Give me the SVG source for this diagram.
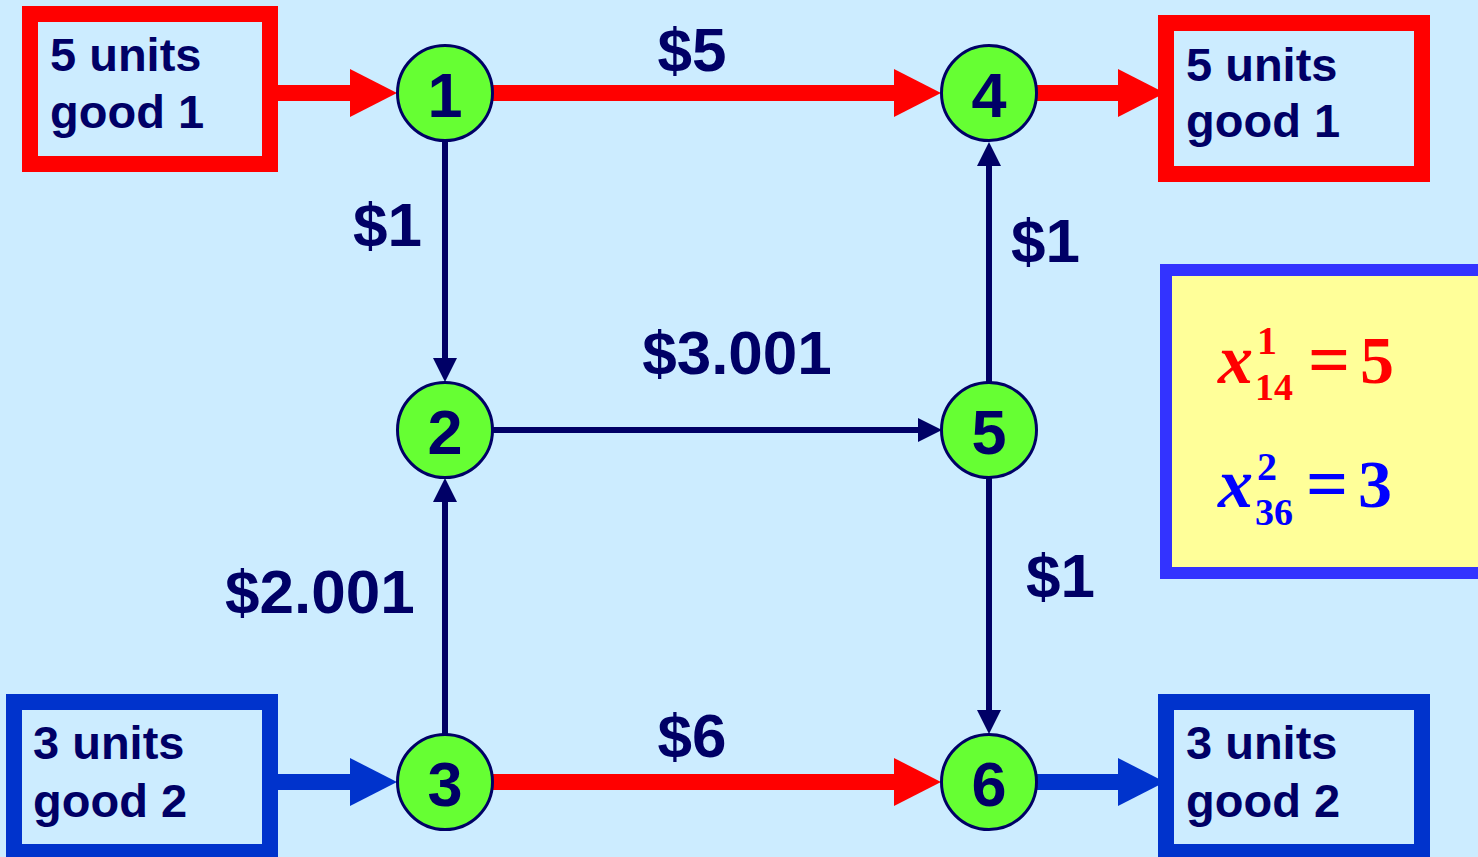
<svg xmlns="http://www.w3.org/2000/svg" width="1478" height="857" viewBox="0 0 1478 857">
  <style>
    .node circle { fill: #66FF33; stroke: #000066; stroke-width: 3; }
    .node text { font-family: "Liberation Sans", Arial, sans-serif; font-weight: bold; font-size: 63px; fill: #000066; text-anchor: middle; }
    .box rect { fill: #CCECFF; stroke-width: 16; }
    .box text { font-family: "Liberation Sans", Arial, sans-serif; font-weight: bold; font-size: 47px; fill: #000066; }
    .cost { font-family: "Liberation Sans", Arial, sans-serif; font-weight: bold; font-size: 62px; fill: #000066; }
    .thick { stroke-width: 16; fill: none; }
    .thin { stroke: #000066; stroke-width: 6; fill: none; marker-end: url(#headNavy); }
    .formula { font-family: "Liberation Serif", "Times New Roman", serif; font-weight: bold; }
  </style>
  <defs>
    <marker id="headRed" markerUnits="userSpaceOnUse" markerWidth="47" markerHeight="48" refX="0" refY="24" orient="auto">
      <path d="M0,0 L47,24 L0,48 z" fill="#FF0000"/>
    </marker>
    <marker id="headBlue" markerUnits="userSpaceOnUse" markerWidth="47" markerHeight="48" refX="0" refY="24" orient="auto">
      <path d="M0,0 L47,24 L0,48 z" fill="#0033CC"/>
    </marker>
    <marker id="headNavy" markerUnits="userSpaceOnUse" markerWidth="24" markerHeight="24" refX="0" refY="12" orient="auto">
      <path d="M0,0 L24,12 L0,24 z" fill="#000066"/>
    </marker>
  </defs>

  <!-- background -->
  <rect x="0" y="0" width="1478" height="857" fill="#CCECFF"/>

  <!-- connectors -->
  <g id="connectors">
    <!-- good 1 flow (red) -->
    <line class="thick" x1="278" y1="93" x2="350" y2="93" stroke="#FF0000" marker-end="url(#headRed)"/>
    <line class="thick" x1="493" y1="93" x2="894" y2="93" stroke="#FF0000" marker-end="url(#headRed)"/>
    <line class="thick" x1="1037" y1="93" x2="1118" y2="93" stroke="#FF0000" marker-end="url(#headRed)"/>
    <line class="thick" x1="493" y1="782" x2="894" y2="782" stroke="#FF0000" marker-end="url(#headRed)"/>
    <!-- good 2 flow (blue) -->
    <line class="thick" x1="278" y1="782" x2="350" y2="782" stroke="#0033CC" marker-end="url(#headBlue)"/>
    <line class="thick" x1="1037" y1="782" x2="1118" y2="782" stroke="#0033CC" marker-end="url(#headBlue)"/>
    <!-- unused arcs (navy) -->
    <line class="thin" x1="445" y1="141" x2="445" y2="358"/>
    <line class="thin" x1="493" y1="430" x2="918" y2="430"/>
    <line class="thin" x1="989" y1="382" x2="989" y2="166"/>
    <line class="thin" x1="989" y1="478" x2="989" y2="710"/>
    <line class="thin" x1="445" y1="734" x2="445" y2="502"/>
  </g>

  <!-- arc costs -->
  <g id="costs">
    <text class="cost" x="692" y="71" text-anchor="middle">$5</text>
    <text class="cost" x="353" y="246">$1</text>
    <text class="cost" x="1011" y="262">$1</text>
    <text class="cost" x="737" y="374" text-anchor="middle">$3.001</text>
    <text class="cost" x="225" y="613">$2.001</text>
    <text class="cost" x="1026" y="597">$1</text>
    <text class="cost" x="692" y="757" text-anchor="middle">$6</text>
  </g>

  <!-- supply / demand boxes -->
  <g id="supply1" class="box">
    <rect x="30" y="14" width="240" height="150" stroke="#FF0000"/>
    <text x="50" y="71">5 units</text>
    <text x="50" y="128">good 1</text>
  </g>
  <g id="demand1" class="box">
    <rect x="1166" y="23" width="256" height="151" stroke="#FF0000"/>
    <text x="1186" y="81">5 units</text>
    <text x="1186" y="137">good 1</text>
  </g>
  <g id="supply2" class="box">
    <rect x="14" y="702" width="256" height="150" stroke="#0033CC"/>
    <text x="33" y="759">3 units</text>
    <text x="33" y="817">good 2</text>
  </g>
  <g id="demand2" class="box">
    <rect x="1166" y="702" width="256" height="150" stroke="#0033CC"/>
    <text x="1186" y="759">3 units</text>
    <text x="1186" y="817">good 2</text>
  </g>

  <!-- nodes -->
  <g id="node1" class="node"><circle cx="445" cy="93" r="47.5"/><text x="445" y="117">1</text></g>
  <g id="node2" class="node"><circle cx="445" cy="430" r="47.5"/><text x="445" y="454">2</text></g>
  <g id="node3" class="node"><circle cx="445" cy="782" r="47.5"/><text x="445" y="806">3</text></g>
  <g id="node4" class="node"><circle cx="989" cy="93" r="47.5"/><text x="989" y="117">4</text></g>
  <g id="node5" class="node"><circle cx="989" cy="430" r="47.5"/><text x="989" y="454">5</text></g>
  <g id="node6" class="node"><circle cx="989" cy="782" r="47.5"/><text x="989" y="806">6</text></g>

  <!-- solution panel -->
  <g id="solution">
    <rect x="1166" y="270" width="330" height="303" fill="#FFFF99" stroke="#3333FF" stroke-width="12"/>
    <g class="formula" fill="#FF0000">
      <text x="1218" y="383" font-size="70" font-style="italic">x</text>
      <text x="1257" y="354" font-size="40">1</text>
      <text x="1255" y="400" font-size="38">14</text>
      <text x="1308" y="385" font-size="74">=</text>
      <text x="1360" y="383" font-size="68">5</text>
    </g>
    <g class="formula" fill="#0000FF">
      <text x="1218" y="507" font-size="70" font-style="italic">x</text>
      <text x="1257" y="480" font-size="40">2</text>
      <text x="1255" y="525" font-size="38">36</text>
      <text x="1306" y="509" font-size="74">=</text>
      <text x="1358" y="507" font-size="68">3</text>
    </g>
  </g>
</svg>
